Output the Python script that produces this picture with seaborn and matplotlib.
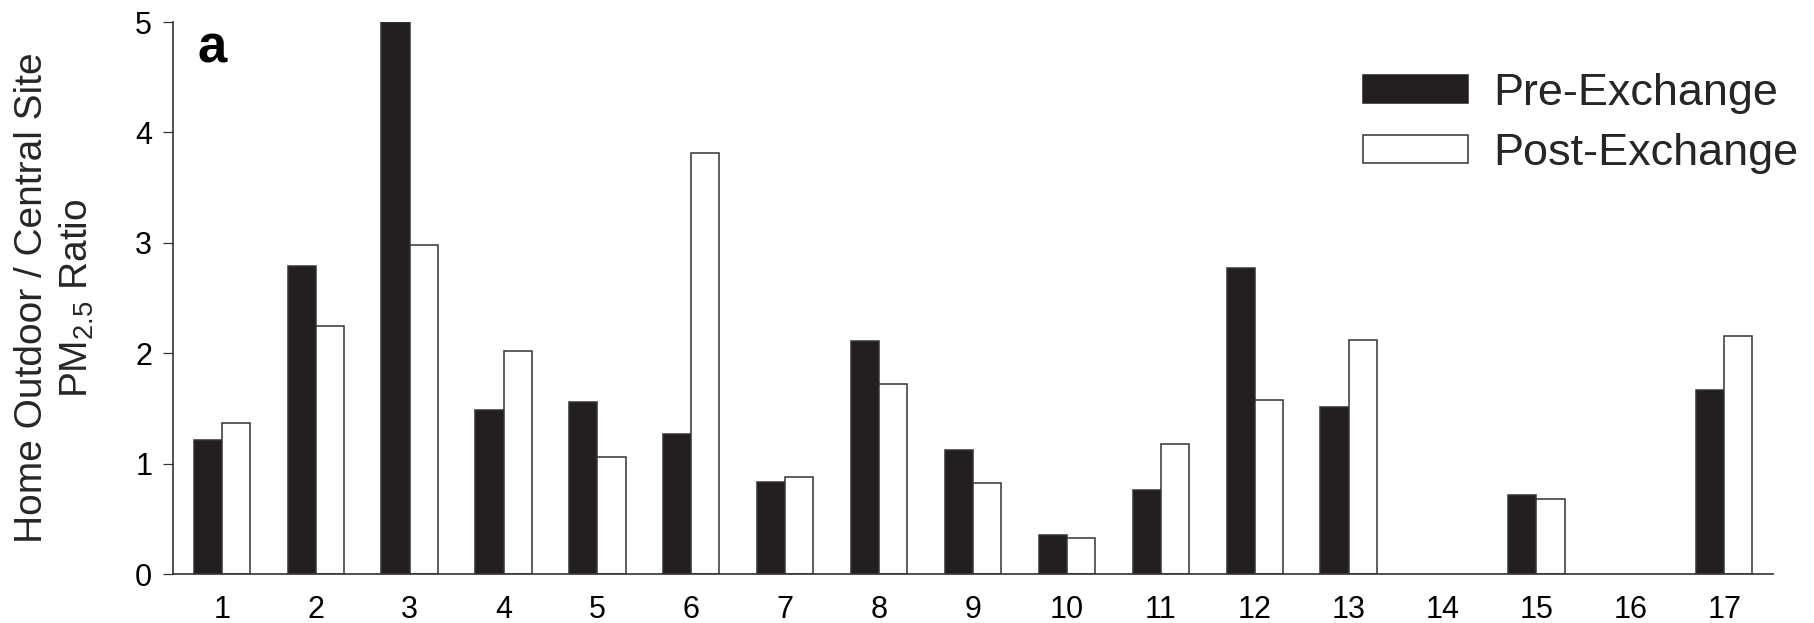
import numpy as np
import pandas as pd
import matplotlib
matplotlib.use("Agg")
import matplotlib.pyplot as plt
import seaborn as sns

homes = [str(i) for i in range(1, 18)]
pre_exchange = [1.21, 2.79, 5.00, 1.49, 1.56, 1.27, 0.83, 2.11, 1.12, 0.35,
                0.76, 2.77, 1.51, np.nan, 0.72, np.nan, 1.67]
post_exchange = [1.37, 2.25, 2.98, 2.02, 1.06, 3.81, 0.88, 1.72, 0.82, 0.33,
                 1.18, 1.58, 2.12, np.nan, 0.68, np.nan, 2.16]
series_names = ["Pre-Exchange", "Post-Exchange"]
y_ticks = [0, 1, 2, 3, 4, 5]

sns.set_theme(style="white")
plt.rcParams["font.family"] = ["Liberation Sans", "DejaVu Sans"]
plt.rcParams["mathtext.fontset"] = "custom"
plt.rcParams["mathtext.rm"] = "Liberation Sans"
plt.rcParams["mathtext.it"] = "Liberation Sans:italic"
plt.rcParams["mathtext.bf"] = "Liberation Sans:bold"

df = pd.DataFrame({
    "home": homes * 2,
    "ratio": pre_exchange + post_exchange,
    "period": [series_names[0]] * len(homes) + [series_names[1]] * len(homes),
})

dark = "#231f20"
fig = plt.figure(figsize=(18.14, 6.23), dpi=100)
ax = fig.add_axes([173 / 1814, 1 - 574 / 623, 1600 / 1814, 552 / 623])

sns.barplot(data=df, x="home", y="ratio", hue="period", order=homes,
            hue_order=series_names,
            palette={series_names[0]: dark, series_names[1]: "white"},
            width=0.6, gap=0, edgecolor="#333333", linewidth=1.1,
            errorbar=None, ax=ax, saturation=1)

leg = ax.get_legend()
handles = leg.legend_handles
labels = [t.get_text() for t in leg.get_texts()]
leg.remove()
handles[0].set_facecolor(dark)
handles[0].set_edgecolor(dark)
handles[1].set_facecolor("white")
handles[1].set_edgecolor("#333333")
for h in handles:
    h.set_linewidth(1.1)
ax.legend(handles, labels, loc="upper left",
          bbox_to_anchor=(1363 / 1814, 1 - 73 / 623),
          bbox_transform=fig.transFigure, frameon=False,
          fontsize=32.4, handlelength=2.34, handleheight=0.56,
          handletextpad=0.55, labelspacing=0.42, borderpad=0,
          borderaxespad=0)

ax.set_xlim(-0.52, 16.52)
ax.set_ylim(0, 5)
ax.set_yticks(y_ticks)
ax.set_yticklabels([str(t) for t in y_ticks])
ax.tick_params(axis="both", labelsize=22, colors="black")
ax.tick_params(axis="x", length=0, pad=15)
ax.tick_params(axis="y", left=True, length=7, width=0.9, pad=8,
               color="#333333", direction="out")
ax.set_xlabel("")
ax.set_ylabel("Home Outdoor / Central Site\nPM$_{2.5}$ Ratio", fontsize=28,
              labelpad=28, linespacing=1.25)

for s in ["top", "right"]:
    ax.spines[s].set_visible(False)
for s in ["left", "bottom"]:
    ax.spines[s].set_color("#333333")
    ax.spines[s].set_linewidth(1.2)

ax.text(0.0156, 0.9275, "a", transform=ax.transAxes, fontsize=38,
        fontweight="bold", ha="left", va="baseline", color="black")

fig.savefig("out.png", dpi=100)
